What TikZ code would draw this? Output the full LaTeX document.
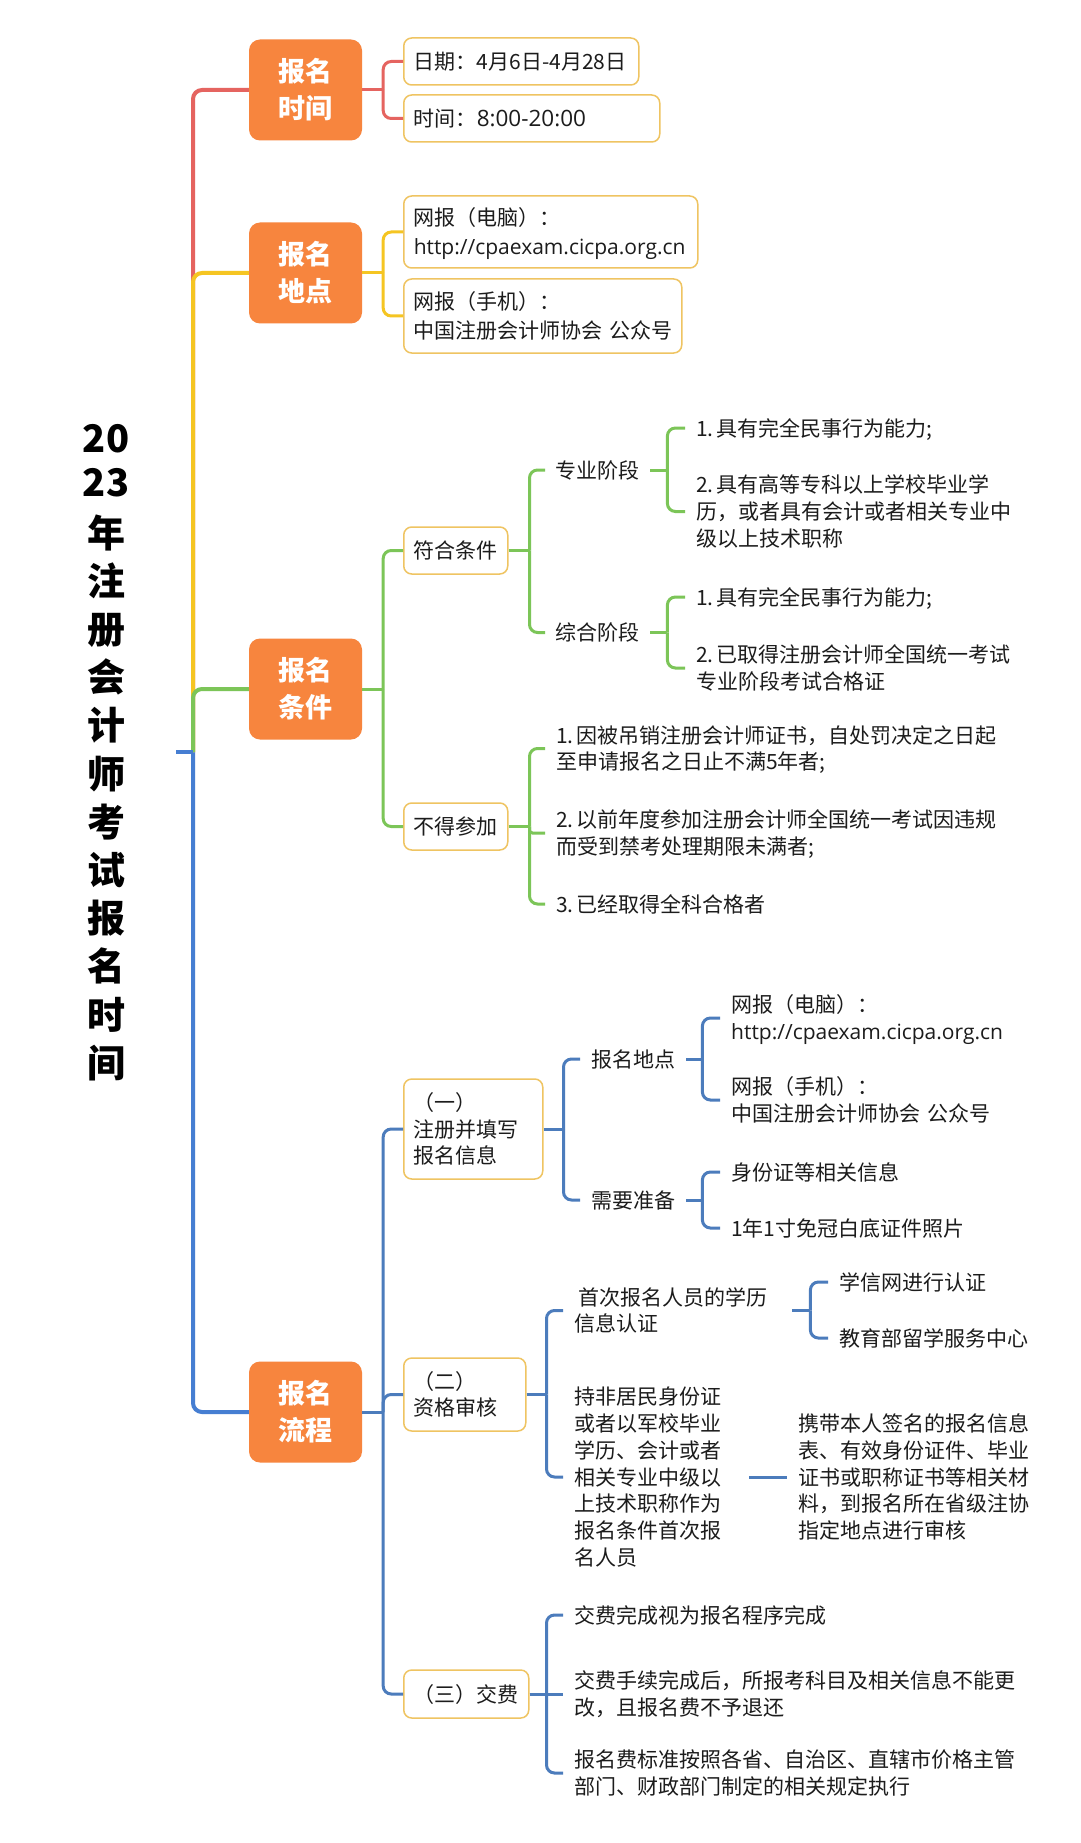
\documentclass[tikz,border=0pt]{standalone}
\usepackage{fontspec}
\setmainfont{Noto Sans CJK SC}
\newfontfamily\latfont{Open Sans}
\definecolor{cred}{RGB}{229,100,96}
\definecolor{cyel}{RGB}{245,197,34}
\definecolor{cgrn}{RGB}{124,197,88}
\definecolor{cblu}{RGB}{70,126,210}
\definecolor{cblus}{RGB}{76,124,188}
\definecolor{corg}{RGB}{247,133,62}
\definecolor{cbdr}{RGB}{239,196,98}
\definecolor{ctxt}{RGB}{28,28,28}
\newcommand\ttl[1]{\hbox to 60pt{\hss#1\hss}}
\newcommand\nsp{\hspace{2.5pt}}
\newcommand\mmbranch[4]{%
  \draw[sub,#1] (#2.east) -- ++(#3,0);
  \foreach \mmc in {#4}{\draw[sub,#1,rounded corners=8pt] ([xshift=#3pt]#2.east) |- (\mmc.west);}%
}
\tikzset{
  body/.style={font=\fontsize{21}{26.7}\selectfont, text=ctxt},
  l1/.style={text height=18.5pt, text depth=2.5pt},
  l2/.style={text height=18.5pt, text depth=29.2pt},
  l2b/.style={text height=18.5pt, text depth=31pt},
  l3/.style={text height=18.5pt, text depth=55.9pt},
  l5/.style={text height=18.5pt, text depth=109.3pt},
  l7/.style={text height=18.5pt, text depth=162.7pt},
  orgbox/.style={fill=corg, rounded corners=11pt, minimum width=113pt, minimum height=101pt,
    inner sep=0pt, text=white, font=\fontsize{27}{37}\selectfont\bfseries, align=center,
    text width=60pt, text height=23.8pt, text depth=40.2pt},
  lbox/.style={body, draw=cbdr, line width=1.5pt, fill=white, rounded corners=8pt,
    inner xsep=10pt, inner ysep=0pt, align=left, anchor=west},
  tnode/.style={body, inner xsep=11pt, inner ysep=0pt, align=left, anchor=west},
  sub/.style={line width=3pt},
  trunk/.style={line width=4pt, rounded corners=9pt},
}
\begin{document}
\begin{tikzpicture}[x=1pt,y=-1pt]
\fill[white] (0,0) rectangle (1080,1843);
\useasboundingbox (0,0) rectangle (1080,1843);

% title (root)
\node[font=\fontsize{38}{48.2}\selectfont\bfseries, text=black, anchor=base,
      minimum width=140pt, inner sep=0pt] (title) at (106,452)
  {\vtop{\lineskiplimit=-100pt\baselineskip=48.2pt
   \ttl{20}\vskip-4.2pt\ttl{23}\vskip2.8pt\ttl{年}\ttl{注}\ttl{册}\ttl{会}\ttl{计}\ttl{师}%
   \ttl{考}\ttl{试}\ttl{报}\ttl{名}\ttl{时}\ttl{间}}};
\coordinate (hx) at (193,0);
\coordinate (hub) at (title.east -| hx);

% level 1
\node[orgbox] (o1) at (305.5,90) {报名\\时间};
\node[orgbox] (o2) at (305.5,273) {报名\\地点};
\node[orgbox] (o3) at (305.5,689) {报名\\条件};
\node[orgbox] (o4) at (305.5,1412) {报名\\流程};

% section 1
\node[lbox, l1, text width=215pt, minimum height=47pt] (d1) at (403,61.5) {日期：4月6日-4月28日};
\node[lbox, l1, text width=236pt, minimum height=47pt] (d2) at (403,118.5) {时间：{\latfont\fontsize{22.5}{26.7}\selectfont 8:00-20:00}};

% section 2
\node[lbox, l2b, text width=274pt, minimum height=72pt, font=\fontsize{21}{28.5}\selectfont] (p1) at (403,232)
  {网报（电脑）：\\{\latfont http://cpaexam.cicpa.org.cn}};
\node[lbox, l2b, text width=258pt, minimum height=74pt, font=\fontsize{21}{28.5}\selectfont] (p2) at (403,316)
  {网报（手机）：\\中国注册会计师协会~公众号};

% section 3
\node[lbox, l1, minimum height=47pt] (c1) at (403,550.5) {符合条件};
\node[lbox, l1, minimum height=47pt] (c2) at (403,826.5) {不得参加};
\node[tnode, l1, inner xsep=10.5pt] (zy) at (545,470) {专业阶段};
\node[tnode, l1, inner xsep=10.5pt] (zh) at (545,632.5) {综合阶段};
\node[tnode, l1] (zy1) at (685,428) {1.\nsp 具有完全民事行为能力;};
\node[tnode, l3, text width=320pt] (zy2) at (685,511.5) {2.\nsp 具有高等专科以上学校毕业学\\历，或者具有会计或者相关专业中\\级以上技术职称};
\node[tnode, l1] (zh1) at (685,597) {1.\nsp 具有完全民事行为能力;};
\node[tnode, l2, text width=340pt] (zh2) at (685,668) {2.\nsp 已取得注册会计师全国统一考试\\专业阶段考试合格证};
\node[tnode, l2, text width=446pt] (bd1) at (545,748.5) {1.\nsp 因被吊销注册会计师证书，自处罚决定之日起\\至申请报名之日止不满5年者;};
\node[tnode, l2, text width=446pt] (bd2) at (545,833) {2.\nsp 以前年度参加注册会计师全国统一考试因违规\\而受到禁考处理期限未满者;};
\node[tnode, l1] (bd3) at (545,904) {3.\nsp 已经取得全科合格者};

% section 4
\node[lbox, l3, text width=119pt, minimum height=100pt] (f1) at (403,1129) {（一）\\注册并填写\\报名信息};
\node[lbox, l2, text width=102pt, minimum height=73pt] (f2) at (403,1394.5) {（二）\\资格审核};
\node[lbox, l1, text width=105pt, minimum height=48pt] (f3) at (403,1694) {（三）交费};
\node[tnode, l1] (bm) at (580,1059) {报名地点};
\node[tnode, l1] (xq) at (580,1200) {需要准备};
\node[tnode, l2, text width=280pt] (bm1) at (720,1018) {网报（电脑）：\\{\latfont http://cpaexam.cicpa.org.cn}};
\node[tnode, l2, text width=264pt] (bm2) at (720,1100) {网报（手机）：\\中国注册会计师协会~公众号};
\node[tnode, l1] (xq1) at (720,1172) {身份证等相关信息};
\node[tnode, l1] (xq2) at (720,1228) {1年1寸免冠白底证件照片};
\node[tnode, l2, text width=207pt] (sc) at (563,1310.5) {\hspace*{4.5pt}首次报名人员的学历\\信息认证};
\node[tnode, l7, text width=164pt] (cf) at (563,1477) {持非居民身份证\\或者以军校毕业\\学历、会计或者\\相关专业中级以\\上技术职称作为\\报名条件首次报\\名人员};
\node[tnode, l1] (sc1) at (828,1282) {学信网进行认证};
\node[tnode, l1] (sc2) at (828,1338) {教育部留学服务中心};
\node[tnode, l5, text width=236pt] (cf1) at (787,1477) {携带本人签名的报名信息\\表、有效身份证件、毕业\\证书或职称证书等相关材\\料，到报名所在省级注协\\指定地点进行审核};
\node[tnode, l1] (jf1) at (563,1615) {交费完成视为报名程序完成};
\node[tnode, l2, text width=446pt] (jf2) at (563,1694) {交费手续完成后，所报考科目及相关信息不能更\\改，且报名费不予退还};
\node[tnode, l2, text width=446pt] (jf3) at (563,1773) {报名费标准按照各省、自治区、直辖市价格主管\\部门、财政部门制定的相关规定执行};

% trunk connectors
\draw[trunk, cred] (hub) |- (o1.west);
\draw[trunk, cyel] (hub) |- (o2.west);
\draw[trunk, cgrn] (hub) |- (o3.west);
\draw[trunk, cblu] (hub) |- (o4.west);
\draw[trunk, cblu] (title.east) -- (hub);

% branch connectors
\mmbranch{cred}{o1}{21}{d1,d2}
\mmbranch{cyel}{o2}{21}{p1,p2}
\mmbranch{cgrn}{o3}{21}{c1,c2}
\mmbranch{cgrn}{c1}{21}{zy,zh}
\mmbranch{cgrn}{zy}{17}{zy1,zy2}
\mmbranch{cgrn}{zh}{17}{zh1,zh2}
\mmbranch{cgrn}{c2}{21}{bd1,bd3}
\draw[sub,cgrn,rounded corners=3pt] ([xshift=21pt]c2.east) |- (bd2.west);
\mmbranch{cblus}{o4}{21}{f1,f2,f3}
\mmbranch{cblus}{f1}{20}{bm,xq}
\mmbranch{cblus}{bm}{16}{bm1,bm2}
\mmbranch{cblus}{xq}{16}{xq1,xq2}
\mmbranch{cblus}{f2}{20}{sc,cf}
\mmbranch{cblus}{sc}{18}{sc1,sc2}
\draw[sub,cblus] (cf.east) -- (cf1.west);
\mmbranch{cblus}{f3}{17}{jf1,jf3}
\draw[sub,cblus] (f3.east) -- (jf2.west);
\end{tikzpicture}
\end{document}
